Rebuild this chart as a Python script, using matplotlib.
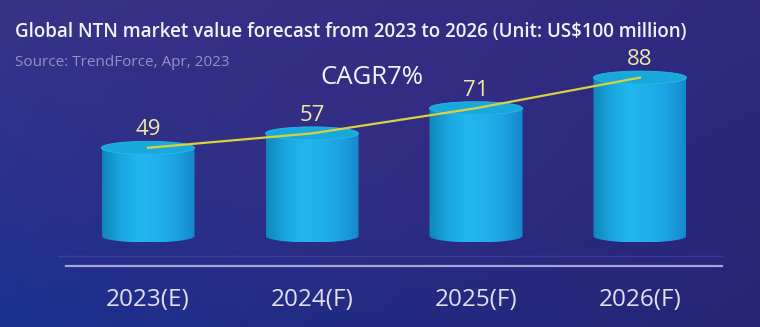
import numpy as np
import matplotlib
matplotlib.use("Agg")
import matplotlib.pyplot as plt
from matplotlib.colors import LinearSegmentedColormap
from matplotlib.patches import Ellipse, PathPatch
from matplotlib.path import Path

years = ["2023(E)", "2024(F)", "2025(F)", "2026(F)"]
values = [49, 57, 71, 88]
title = "Global NTN market value forecast from 2023 to 2026 (Unit: US$100 million)"
source = "Source: TrendForce, Apr, 2023"
cagr_text = "CAGR7%"

plt.rcParams['font.family'] = ['Open Sans', 'DejaVu Sans']

W, H = 760, 327
fig = plt.figure(figsize=(W / 100, H / 100), dpi=100)
ax = fig.add_axes([0, 0, 1, 1])

# pixel layout: bar centres 164 px apart, value 0 at y=236 px, 1.8 px per unit
x0, dx = 148, 164
y0, dy = 236, 1.8
xmin, xmax = -x0 / dx, (W - x0) / dx
ymin, ymax = (y0 - H) / dy, y0 / dy
ax.set_xlim(xmin, xmax)
ax.set_ylim(ymin, ymax)
ax.axis("off")

# background: bilinear blend between corner colours plus a purple haze
def hex2rgb(h):
    return np.array([int(h[i:i + 2], 16) / 255 for i in (1, 3, 5)])

tl, tr = hex2rgb("#383488"), hex2rgb("#2e2a80")
bl, br = hex2rgb("#1a3190"), hex2rgb("#262474")
mid = hex2rgb("#3e2e84")
gy, gx = np.mgrid[0:1:200j, 0:1:400j]
bg = ((1 - gy)[..., None] * ((1 - gx)[..., None] * tl + gx[..., None] * tr)
      + gy[..., None] * ((1 - gx)[..., None] * bl + gx[..., None] * br))
blob = np.exp(-(((gx - 0.45) / 0.35) ** 2 + ((gy - 0.45) / 0.4) ** 2))
bg = bg * (1 - 0.4 * blob[..., None]) + mid * 0.4 * blob[..., None]
ax.imshow(bg, extent=[xmin, xmax, ymin, ymax], aspect="auto", zorder=0, origin="upper")

# cylinders
bw = 93 / dx
eh = 13 / dy
body_cmap = LinearSegmentedColormap.from_list(
    "body", ["#0f86b8", "#1aa6e0", "#22b6ee", "#21b0ec", "#1ca2e2", "#1588cc"])
grad = np.linspace(0, 1, 256)[None, :]
for i, v in enumerate(values):
    left, right = i - bw / 2, i + bw / 2
    t = np.linspace(0, np.pi, 40)
    # bottom half ellipse from right to left
    arc = np.column_stack([i + bw / 2 * np.cos(t), -eh / 2 * np.sin(t)])
    verts = np.vstack([[[left, v], [right, v]], arc, [[left, v]]])
    body = PathPatch(Path(verts), facecolor="none", edgecolor="none", zorder=2)
    ax.add_patch(body)
    im = ax.imshow(grad, cmap=body_cmap, extent=[left, right, -eh / 2, v],
                   aspect="auto", zorder=2)
    im.set_clip_path(body)
    top = Ellipse((i, v), bw, eh, facecolor="#19a8dc", edgecolor="#26b8ea",
                  linewidth=0.6, zorder=3)
    ax.add_patch(top)

# trend line through the bar tops
ax.plot(range(len(values)), values, color="#d9d23c", linewidth=1.6, zorder=4)

# value labels
for i, v in enumerate(values):
    ax.text(i, v + 10, str(v), ha="center", va="center", fontsize=16,
            color="#efe8a6", zorder=5)

# baseline
ax.plot([-0.5, 3.5], [(y0 - 266) / dy] * 2, color="#aaa4dc", linewidth=1.6, zorder=1)
ax.plot([-0.55, 3.5], [(y0 - 256) / dy] * 2, color="#4a4c9e", linewidth=1.0, alpha=0.6, zorder=1)

# category labels
for i, lab in enumerate(years):
    ax.text(i, (y0 - 300) / dy, lab, ha="center", va="center", fontsize=17.5,
            color="#e2e0f0", zorder=5)

fig.text(15 / W, 1 - 32 / H, title, ha="left", va="center", fontsize=13.5,
         fontweight="semibold", color="#f2f1f8")
fig.text(15 / W, 1 - 62 / H, source, ha="left", va="center", fontsize=11,
         color="#9591c2")
fig.text(372 / W, 1 - 77 / H, cagr_text, ha="center", va="center", fontsize=18.5,
         color="#f4f4fa")

fig.savefig("out.png", dpi=100)
